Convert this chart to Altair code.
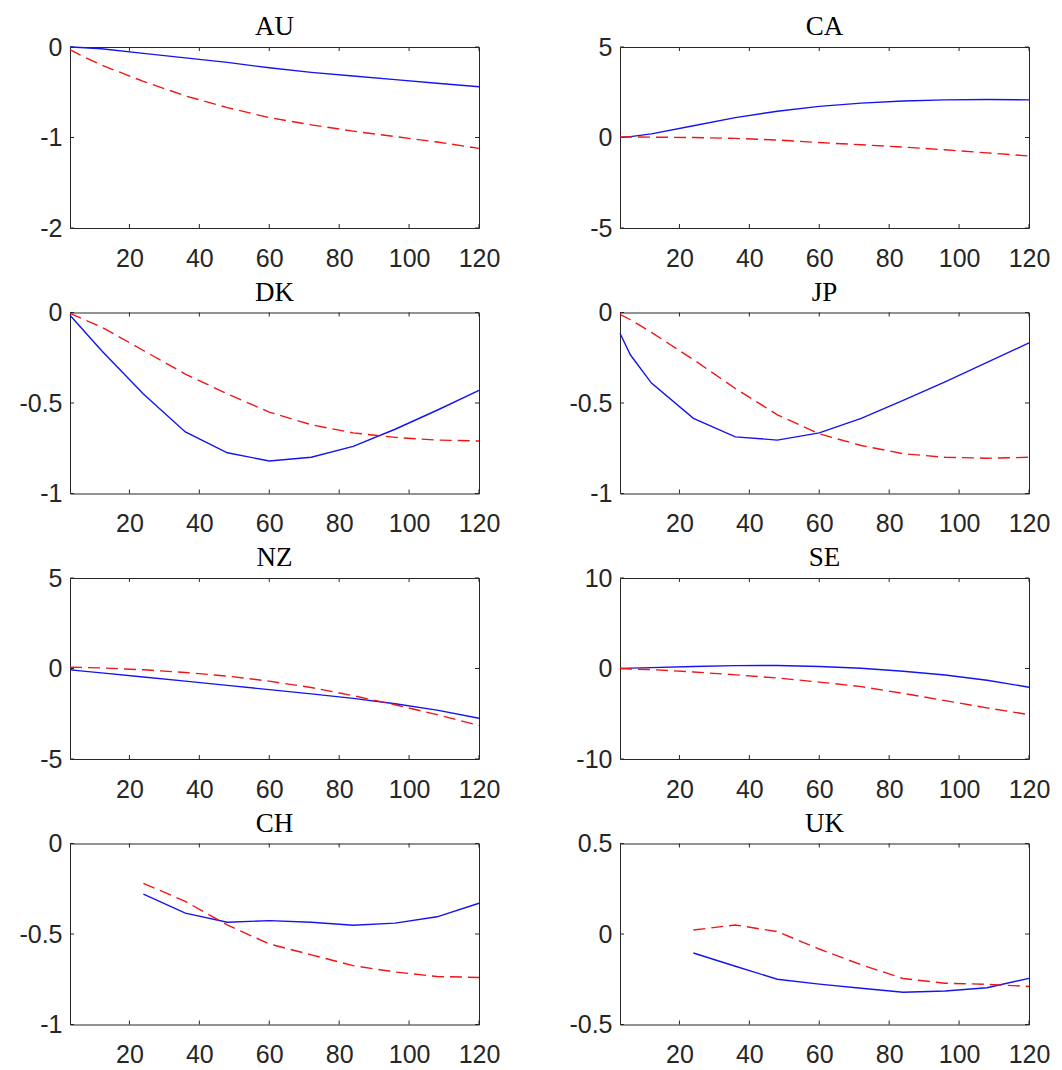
import altair as alt
import pandas as pd

# ---------------- data ----------------
COUNTRIES = ["AU", "CA", "DK", "JP", "NZ", "SE", "CH", "UK"]
M_FULL = [3, 6, 12, 24, 36, 48, 60, 72, 84, 96, 108, 120]
M_LATE = [24, 36, 48, 60, 72, 84, 96, 108, 120]

au_blue = [0.0, -0.005, -0.02, -0.07, -0.12, -0.17, -0.23, -0.28, -0.32, -0.36, -0.40, -0.44]
au_red = [-0.03, -0.09, -0.20, -0.38, -0.54, -0.67, -0.78, -0.86, -0.93, -0.99, -1.05, -1.12]

ca_blue = [0.0, 0.05, 0.20, 0.65, 1.10, 1.45, 1.72, 1.90, 2.02, 2.08, 2.10, 2.08]
ca_red = [0.03, 0.03, 0.02, 0.0, -0.05, -0.14, -0.28, -0.40, -0.53, -0.68, -0.85, -1.02]

dk_blue = [-0.015, -0.08, -0.21, -0.45, -0.66, -0.775, -0.82, -0.80, -0.74, -0.645, -0.54, -0.43]
dk_red = [-0.005, -0.03, -0.08, -0.21, -0.34, -0.45, -0.55, -0.62, -0.665, -0.69, -0.705, -0.71]

jp_blue = [-0.115, -0.235, -0.39, -0.585, -0.687, -0.705, -0.665, -0.585, -0.485, -0.383, -0.276, -0.168]
jp_red = [-0.01, -0.04, -0.11, -0.26, -0.42, -0.565, -0.67, -0.735, -0.78, -0.80, -0.805, -0.80]

nz_blue = [-0.07, -0.13, -0.24, -0.47, -0.70, -0.93, -1.17, -1.40, -1.65, -1.95, -2.30, -2.75]
nz_red = [0.07, 0.06, 0.03, -0.07, -0.22, -0.42, -0.70, -1.05, -1.50, -2.00, -2.55, -3.15]

se_blue = [0.0, 0.04, 0.10, 0.22, 0.32, 0.33, 0.22, 0.02, -0.30, -0.72, -1.30, -2.07]
se_red = [0.0, -0.05, -0.12, -0.38, -0.70, -1.05, -1.50, -2.00, -2.75, -3.55, -4.35, -5.10]

ch_blue = [-0.28, -0.385, -0.435, -0.426, -0.435, -0.452, -0.44, -0.405, -0.33]
ch_red = [-0.22, -0.32, -0.45, -0.555, -0.615, -0.675, -0.71, -0.735, -0.74]

uk_blue = [-0.105, -0.178, -0.25, -0.277, -0.30, -0.322, -0.315, -0.297, -0.245]
uk_red = [0.022, 0.05, 0.013, -0.083, -0.17, -0.246, -0.272, -0.278, -0.29]

X_DOMAIN = [3, 120]
X_TICKS = [20, 40, 60, 80, 100, 120]

Y_DOMAINS = {
    "AU": [-2, 0], "CA": [-5, 5], "DK": [-1, 0], "JP": [-1, 0],
    "NZ": [-5, 5], "SE": [-10, 10], "CH": [-1, 0], "UK": [-0.5, 0.5],
}
Y_TICKS = {
    "AU": [-2, -1, 0], "CA": [-5, 0, 5], "DK": [-1, -0.5, 0], "JP": [-1, -0.5, 0],
    "NZ": [-5, 0, 5], "SE": [-10, 0, 10], "CH": [-1, -0.5, 0], "UK": [-0.5, 0, 0.5],
}
SERIES = {
    "AU": (M_FULL, au_blue, au_red), "CA": (M_FULL, ca_blue, ca_red),
    "DK": (M_FULL, dk_blue, dk_red), "JP": (M_FULL, jp_blue, jp_red),
    "NZ": (M_FULL, nz_blue, nz_red), "SE": (M_FULL, se_blue, se_red),
    "CH": (M_LATE, ch_blue, ch_red), "UK": (M_LATE, uk_blue, uk_red),
}

# ---------------- style ----------------
PW, PH = 409, 181
AXIS_COLOR = "#262626"
LABEL_FONT = "Liberation Sans"
LABEL_SIZE = 25
LABEL_EXPR = "datum.value < 0 ? '-' + (-datum.value) : '' + datum.value"
TICK_PX = 4


def panel(name):
    xs, blue, red = SERIES[name]
    ydom = Y_DOMAINS[name]
    yticks = Y_TICKS[name]
    yr = ydom[1] - ydom[0]
    xr = X_DOMAIN[1] - X_DOMAIN[0]
    ty = TICK_PX / PH * yr
    tx = TICK_PX / PW * xr

    xsc = alt.Scale(domain=X_DOMAIN, nice=False, zero=False)
    ysc = alt.Scale(domain=ydom, nice=False, zero=False)
    xenc = alt.X("x:Q", scale=xsc, title=None,
                 axis=alt.Axis(values=X_TICKS, domain=False, ticks=False, grid=False,
                               labelFont=LABEL_FONT, labelFontSize=LABEL_SIZE,
                               labelColor=AXIS_COLOR, labelPadding=18, labelExpr=LABEL_EXPR,
                               labelFlush=False, labelOverlap=False))
    yenc = alt.Y("y:Q", scale=ysc, title=None,
                 axis=alt.Axis(values=yticks, domain=False, ticks=False, grid=False,
                               labelFont=LABEL_FONT, labelFontSize=LABEL_SIZE,
                               labelColor=AXIS_COLOR, labelPadding=8, labelExpr=LABEL_EXPR,
                               labelOverlap=False, minExtent=60, maxExtent=60))

    blue_df = pd.DataFrame({"x": xs, "y": blue})
    red_df = pd.DataFrame({"x": xs, "y": red})

    blue_line = alt.Chart(blue_df).mark_line(color="#1414f0", strokeWidth=1.4).encode(x=xenc, y=yenc)
    red_line = alt.Chart(red_df).mark_line(color="#f01414", strokeWidth=1.4,
                                           strokeDash=[12, 6]).encode(x=xenc, y=yenc)

    # inward tick marks (MATLAB style box axes)
    rows = []
    for t in X_TICKS:
        rows.append({"x": t, "x2": t, "y": ydom[0], "y2": ydom[0] + ty})
        rows.append({"x": t, "x2": t, "y": ydom[1], "y2": ydom[1] - ty})
    for t in yticks:
        rows.append({"x": X_DOMAIN[0], "x2": X_DOMAIN[0] + tx, "y": t, "y2": t})
        rows.append({"x": X_DOMAIN[1], "x2": X_DOMAIN[1] - tx, "y": t, "y2": t})
    tick_df = pd.DataFrame(rows)
    ticks = alt.Chart(tick_df).mark_rule(color=AXIS_COLOR, strokeWidth=1).encode(
        x=xenc, x2="x2:Q", y=yenc, y2="y2:Q")

    return alt.layer(ticks, blue_line, red_line).properties(
        width=PW, height=PH,
        title=alt.TitleParams(text=name, font="Liberation Serif", fontSize=27,
                              fontWeight="normal", color="#000000", offset=-6,
                              anchor="middle"),
    )


chart = alt.concat(*[panel(c) for c in COUNTRIES], columns=2,
                   spacing={"row": 5.5, "column": 58}).properties(
    padding={"left": 1, "top": 4, "right": 0, "bottom": 0},
    background="white",
).configure_view(stroke=AXIS_COLOR, strokeWidth=1)

chart.save("out.html", embed_options={"renderer": "svg", "actions": False})
